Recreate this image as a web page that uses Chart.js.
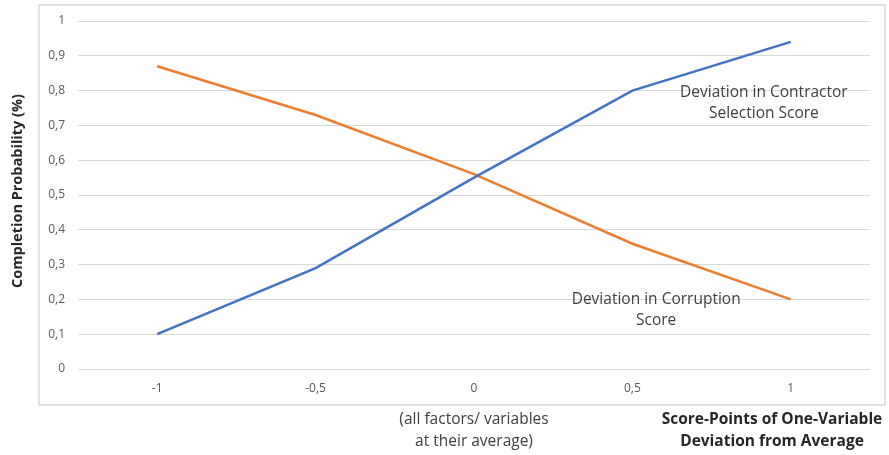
<!DOCTYPE html>
<html>
<head>
<meta charset="utf-8">
<script src="https://cdn.jsdelivr.net/npm/chart.js@4/dist/chart.umd.min.js"></script>
<style>
  body { margin: 0; background: #fff; }
  #wrap { position: relative; width: 889px; height: 455px; }
</style>
</head>
<body>
<div id="wrap"><canvas id="myChart" width="889" height="455"></canvas></div>
<script>
var xLabels = ["-1", "-0,5", "0", "0,5", "1"];
var selectionScore = [0.10, 0.29, 0.55, 0.80, 0.94];
var corruptionScore = [0.87, 0.73, 0.56, 0.36, 0.20];
var yTicks = [0, 0.1, 0.2, 0.3, 0.4, 0.5, 0.6, 0.7, 0.8, 0.9, 1];

var FONT = "Open Sans";

// frame, axis titles and in-chart labels
var extras = {
    id: "extras",
    afterDraw: function (chart) {
        var ctx = chart.ctx;
        var x = chart.scales.x, y = chart.scales.y;
        ctx.save();
        ctx.strokeStyle = "#d9d9d9";
        ctx.lineWidth = 1.5;
        ctx.strokeRect(39, 5, 846, 400);

        ctx.textAlign = "center";
        ctx.textBaseline = "middle";
        ctx.fillStyle = "#404040";
        ctx.font = "15.5px '" + FONT + "'";
        ctx.fillText("Deviation in Contractor", x.getPixelForValue(3.83), y.getPixelForValue(0.795));
        ctx.fillText("Selection Score", x.getPixelForValue(3.83), y.getPixelForValue(0.733));
        ctx.fillText("Deviation in Corruption", x.getPixelForValue(3.15), y.getPixelForValue(0.20));
        ctx.fillText("Score", x.getPixelForValue(3.15), y.getPixelForValue(0.14));

        ctx.fillText("(all factors/ variables", x.getPixelForValue(2), 420);
        ctx.fillText("at their average)", x.getPixelForValue(2), 442);

        ctx.fillStyle = "#262626";
        ctx.font = "bold 15.5px '" + FONT + "'";
        ctx.fillText("Score-Points of One-Variable", 772, 420);
        ctx.fillText("Deviation from Average", 772, 442);

        ctx.font = "bold 14.5px '" + FONT + "'";
        ctx.translate(18, 191);
        ctx.rotate(-Math.PI / 2);
        ctx.fillText("Completion Probability (%)", 0, 0);
        ctx.restore();
    }
};

new Chart("myChart", {
    type: "line",
    data: {
        labels: xLabels,
        datasets: [{
            label: "Deviation in Contractor Selection Score",
            data: selectionScore,
            borderColor: "#4472c4",
            borderWidth: 2.5,
            pointRadius: 0,
            tension: 0
        }, {
            label: "Deviation in Corruption Score",
            data: corruptionScore,
            borderColor: "#ed7d31",
            borderWidth: 2.5,
            pointRadius: 0,
            tension: 0
        }]
    },
    options: {
        responsive: false,
        animation: false,
        layout: { padding: { left: 0, right: 19, top: 21, bottom: 50 } },
        plugins: {
            legend: { display: false },
            tooltip: { enabled: false }
        },
        scales: {
            x: {
                offset: true,
                grid: { display: false, drawTicks: false },
                border: { display: false },
                ticks: { color: "#595959", padding: 12, font: { family: FONT, size: 12 } },
                afterFit: function (s) { s.height = 36; }
            },
            y: {
                min: 0,
                max: 1,
                afterBuildTicks: function (s) { s.ticks = yTicks.map(function (v) { return { value: v }; }); },
                grid: { color: "#d9d9d9", lineWidth: 1, drawTicks: false },
                border: { display: false },
                ticks: {
                    color: "#595959",
                    padding: 13,
                    font: { family: FONT, size: 12 },
                    callback: function (v) { return String(Math.round(v * 10) / 10).replace(".", ","); }
                },
                afterFit: function (s) { s.width = 78; }
            }
        }
    },
    plugins: [extras]
});
</script>
</body>
</html>
